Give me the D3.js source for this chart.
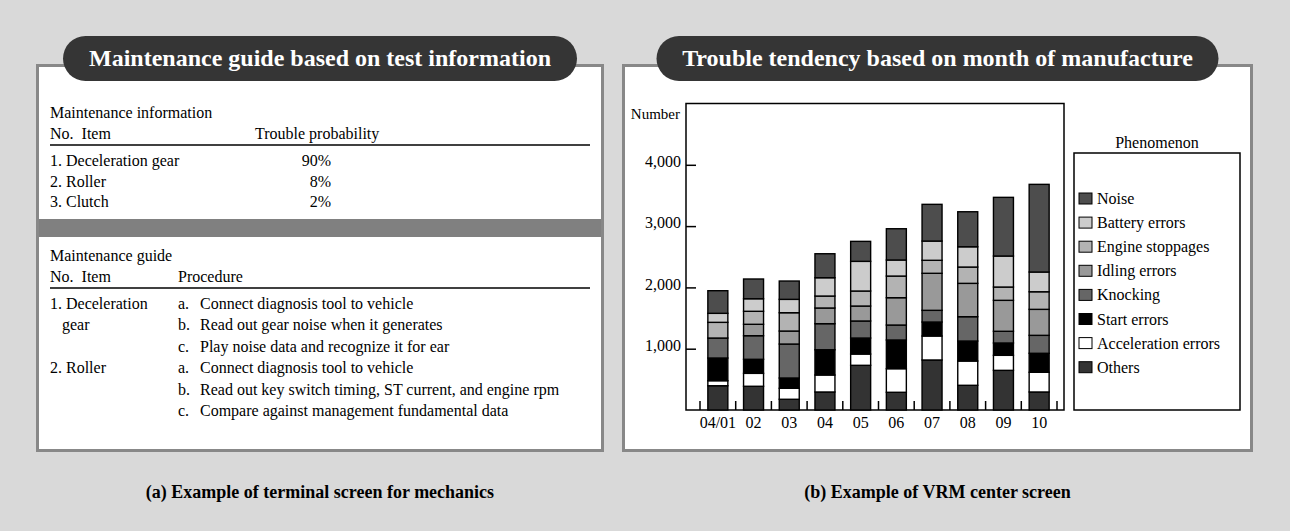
<!DOCTYPE html>
<html>
<head>
<meta charset="utf-8">
<script src="https://cdn.jsdelivr.net/npm/d3@7"></script>
<style>
  body { margin: 0; background: #d9d9d9; }
  svg { display: block; font-family: 'Liberation Serif', 'Times New Roman', serif; }
</style>
</head>
<body>
<svg></svg>
<script>
const width = 1290;
const height = 531;

// months of manufacture on the x axis
const months = ['04/01', '02', '03', '04', '05', '06', '07', '08', '09', '10'];

// stacked from the bottom up
const phenomena = ['Others', 'Acceleration errors', 'Start errors', 'Knocking',
                   'Idling errors', 'Engine stoppages', 'Battery errors', 'Noise'];

const others   = [396, 387, 175, 294, 729, 289, 816, 403, 647, 294];
const accel    = [82, 211, 179, 277, 184, 385, 391, 396, 245, 321];
const start    = [370, 229, 168, 412, 261, 468, 228, 326, 201, 310];
const knocking = [326, 385, 554, 425, 278, 244, 191, 397, 191, 293];
const idling   = [0, 186, 212, 256, 244, 446, 604, 544, 505, 424];
const engine   = [256, 212, 299, 195, 245, 353, 212, 266, 217, 287];
const battery  = [147, 205, 218, 299, 484, 262, 314, 331, 506, 322];
const noise    = [369, 322, 299, 391, 326, 510, 599, 571, 957, 1430];

const yTicks = [1000, 2000, 3000, 4000];

const fills = ['#333333', '#ffffff', '#000000', '#666666',
               '#999999', '#b3b3b3', '#cccccc', '#4d4d4d'];

// left screen texts
const infoRows = [
  ['1. Deceleration gear', '90%'],
  ['2. Roller', '8%'],
  ['3. Clutch', '2%'],
];
const guideLines = [
  ['1. Deceleration', 'a.', 'Connect diagnosis tool to vehicle'],
  ['gear', 'b.', 'Read out gear noise when it generates'],
  ['', 'c.', 'Play noise data and recognize it for ear'],
  ['2. Roller', 'a.', 'Connect diagnosis tool to vehicle'],
  ['', 'b.', 'Read out key switch timing, ST current, and engine rpm'],
  ['', 'c.', 'Compare against management fundamental data'],
];

const table = months.map((m, i) => ({
  month: m,
  'Others': others[i],
  'Acceleration errors': accel[i],
  'Start errors': start[i],
  'Knocking': knocking[i],
  'Idling errors': idling[i],
  'Engine stoppages': engine[i],
  'Battery errors': battery[i],
  'Noise': noise[i],
}));

const svg = d3.select('svg')
              .attr('width', width)
              .attr('height', height);

svg.append('rect')
   .attr('width', width).attr('height', height)
   .attr('fill', '#d9d9d9');

// panel frames with the dark pill titles
const panels = [
  { x: 37.5, w: 565, title: 'Maintenance guide based on test information', pill: 514,
    caption: '(a) Example of terminal screen for mechanics' },
  { x: 623.5, w: 628, title: 'Trouble tendency based on month of manufacture', pill: 562,
    caption: '(b) Example of VRM center screen' },
];

panels.forEach(p => {
  const cx = p.x + p.w / 2;
  svg.append('rect')
     .attr('x', p.x).attr('y', 65.5)
     .attr('width', p.w).attr('height', 385)
     .attr('fill', '#fff')
     .attr('stroke', '#888')
     .attr('stroke-width', 3);
  svg.append('rect')
     .attr('x', cx - p.pill / 2).attr('y', 36)
     .attr('width', p.pill).attr('height', 45)
     .attr('rx', 22.5)
     .attr('fill', '#353535');
  svg.append('text')
     .attr('x', cx).attr('y', 66)
     .attr('text-anchor', 'middle')
     .attr('fill', '#fff')
     .attr('font-weight', 'bold')
     .attr('font-size', 24)
     .text(p.title);
  svg.append('text')
     .attr('x', cx).attr('y', 498)
     .attr('text-anchor', 'middle')
     .attr('font-weight', 'bold')
     .attr('font-size', 18)
     .text(p.caption);
});

/**
 * LEFT SCREEN
 */
const left = svg.append('g').attr('font-size', 16);

left.append('text').attr('x', 50).attr('y', 118).text('Maintenance information');
left.append('text').attr('x', 50).attr('y', 139).attr('xml:space', 'preserve').text('No.  Item');
left.append('text').attr('x', 255).attr('y', 139).text('Trouble probability');
left.append('line')
    .attr('x1', 50).attr('x2', 590).attr('y1', 145).attr('y2', 145)
    .attr('stroke', '#000').attr('stroke-width', 1.5);

infoRows.forEach((r, i) => {
  const yy = 166 + i * 20.5;
  left.append('text').attr('x', 50).attr('y', yy).text(r[0]);
  left.append('text').attr('x', 331).attr('y', yy).attr('text-anchor', 'end').text(r[1]);
});

// grey divider between the two tables
svg.append('rect')
   .attr('x', 39).attr('y', 219)
   .attr('width', 562).attr('height', 18)
   .attr('fill', '#808080');

left.append('text').attr('x', 50).attr('y', 261).text('Maintenance guide');
left.append('text').attr('x', 50).attr('y', 282).attr('xml:space', 'preserve').text('No.  Item');
left.append('text').attr('x', 178).attr('y', 282).text('Procedure');
left.append('line')
    .attr('x1', 50).attr('x2', 590).attr('y1', 288).attr('y2', 288)
    .attr('stroke', '#000').attr('stroke-width', 1.5);

guideLines.forEach((l, i) => {
  const yy = 309 + i * 21.4;
  left.append('text').attr('x', l[0] === 'gear' ? 62 : 50).attr('y', yy).text(l[0]);
  left.append('text').attr('x', 178).attr('y', yy).text(l[1]);
  left.append('text').attr('x', 200).attr('y', yy).text(l[2]);
});

/**
 * RIGHT SCREEN - stacked bars
 */
const x = d3.scaleBand()
            .domain(months)
            .range([700, 1057])
            .paddingInner(0.44)
            .paddingOuter(0.22);

const y = d3.scaleLinear()
            .domain([0, 5000])
            .range([410, 103.5]);

const series = d3.stack().keys(phenomena)(table);

const chart = svg.append('g').attr('font-size', 16);

chart.append('rect')
     .attr('x', 686).attr('y', y(5000))
     .attr('width', 378).attr('height', y(0) - y(5000))
     .attr('fill', 'none')
     .attr('stroke', '#000')
     .attr('stroke-width', 1.5);

chart.append('text')
     .attr('x', 680).attr('y', 119)
     .attr('text-anchor', 'end')
     .attr('font-size', 15)
     .text('Number');

// y axis ticks point inwards
const yAxis = chart.append('g')
                   .attr('transform', 'translate(686,0)')
                   .call(d3.axisLeft(y)
                           .tickValues(yTicks)
                           .tickSize(-10)
                           .tickPadding(5)
                           .tickFormat(d3.format(',')))
                   .attr('font-family', null)
                   .attr('font-size', 16);
yAxis.select('.domain').remove();
yAxis.selectAll('line').attr('stroke-width', 1.5);
yAxis.selectAll('text').attr('dy', '0.1em');

// month labels under the bars
const xAxis = chart.append('g')
                   .attr('transform', `translate(0,${y(0)})`)
                   .call(d3.axisBottom(x).tickSize(0).tickPadding(7))
                   .attr('font-family', null)
                   .attr('font-size', 16);
xAxis.select('.domain').remove();

// small upward ticks between the months
chart.selectAll('line.sep')
     .data(d3.range(months.length + 1))
     .enter()
     .append('line')
       .attr('class', 'sep')
       .attr('x1', i => x.range()[0] + i * x.step())
       .attr('x2', i => x.range()[0] + i * x.step())
       .attr('y1', y(0))
       .attr('y2', y(0) - 9)
       .attr('stroke', '#000')
       .attr('stroke-width', 1.5);

chart.selectAll('g.layer')
     .data(series)
     .enter()
     .append('g')
       .attr('class', 'layer')
       .attr('fill', (d, i) => fills[i])
     .selectAll('rect')
     .data(d => d.filter(v => v[1] > v[0]))
     .enter()
     .append('rect')
       .attr('x', d => x(d.data.month))
       .attr('y', d => y(d[1]))
       .attr('width', x.bandwidth())
       .attr('height', d => y(d[0]) - y(d[1]))
       .attr('stroke', '#000')
       .attr('stroke-width', 1.4);

// legend
const legend = chart.append('g');
legend.append('rect')
      .attr('x', 1074).attr('y', 153)
      .attr('width', 166).attr('height', 257)
      .attr('fill', '#fff')
      .attr('stroke', '#000')
      .attr('stroke-width', 1.5);
legend.append('text')
      .attr('x', 1157).attr('y', 148)
      .attr('text-anchor', 'middle')
      .text('Phenomenon');

const legendItems = phenomena.map((p, i) => ({ name: p, fill: fills[i] })).reverse();

const item = legend.selectAll('g.item')
                   .data(legendItems)
                   .enter()
                   .append('g')
                     .attr('class', 'item')
                     .attr('transform', (d, i) => `translate(1079,${193 + i * 24.1})`);
item.append('rect')
    .attr('width', 13).attr('height', 11)
    .attr('fill', d => d.fill)
    .attr('stroke', '#000')
    .attr('stroke-width', 1);
item.append('text')
    .attr('x', 18).attr('y', 11)
    .text(d => d.name);
</script>
</body>
</html>
